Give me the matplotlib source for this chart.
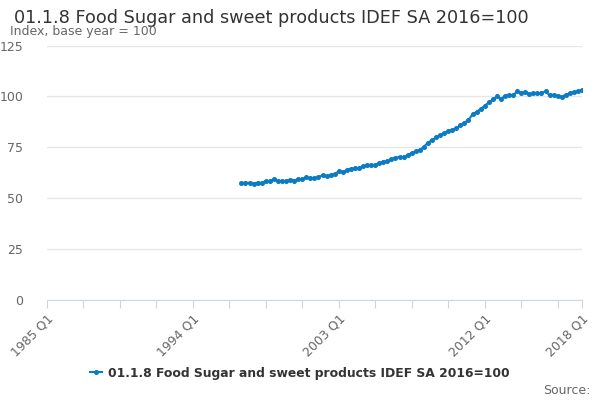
import numpy as np
from matplotlib import pyplot as plt

# quarters on the category axis, 1985 Q1 .. 2018 Q1
years = list(range(1985, 2019))
quarters = [str(y) + " Q" + str(q) for y in years for q in range(1, 5)]
quarters = quarters[:quarters.index("2018 Q1") + 1]

first_quarter = "1997 Q1"
index_values = [
    57.3, 57.5, 57.5, 57.1, 57.6, 57.4, 58.4, 58.3, 59.3, 58.5,
    58.3, 58.3, 59.1, 58.6, 59.2, 59.2, 60.2, 59.6, 59.9, 60.2,
    61.2, 60.6, 61.4, 61.7, 63.1, 62.8, 63.8, 64.4, 64.6, 64.7,
    65.6, 66.1, 66.2, 66.2, 67.2, 67.9, 68.2, 69.0, 69.8, 70.2,
    70.0,
    71.2, 72.2, 73.0, 73.7, 75.2, 77.3, 78.5, 79.8, 81.0, 82.0,
    82.8, 83.6, 84.3, 85.8, 87.1, 88.4, 91.2, 92.4, 93.8, 95.4,
    97.0, 98.5,
    100.0, 98.8, 100.2, 100.8, 100.5, 102.5, 101.8, 102.2, 101.0, 101.7,
    101.5, 101.7, 102.5, 100.5, 100.8, 100.3, 99.8, 100.8, 101.5, 102.2,
    102.6, 103.0,
]

label_quarters = ["1985 Q1", "1994 Q1", "2003 Q1", "2012 Q1", "2018 Q1"]
y_ticks = [0, 25, 50, 75, 100, 125]

title = "01.1.8 Food Sugar and sweet products IDEF SA 2016=100"

start = quarters.index(first_quarter)
x = np.arange(start, start + len(index_values))

fig = plt.figure(figsize=(6, 4), dpi=100)
ax = fig.add_axes([0.078, 0.251, 0.892, 0.635])

line, = ax.plot(x, index_values, color="#0b7bc4", linewidth=1.5,
                marker="o", markersize=2.6, label=title)

ax.set_xlim(0, len(quarters) - 1)
ax.set_ylim(0, 125)
ax.set_yticks(y_ticks)
ax.set_yticklabels([str(v) for v in y_ticks])
ax.grid(axis="y", color="#e6e6e6", linewidth=1)
ax.set_axisbelow(True)

tick_pos = list(range(0, len(quarters), 9)) + [len(quarters) - 1]
ax.set_xticks(tick_pos)
ax.set_xticklabels([quarters[p] if quarters[p] in label_quarters else "" for p in tick_pos],
                   rotation=45, ha="right", rotation_mode="anchor")

for s in ["top", "right", "left"]:
    ax.spines[s].set_visible(False)
ax.spines["bottom"].set_color("#ccd6eb")
ax.tick_params(axis="x", colors="#ccd6eb", length=6, labelcolor="#666666", labelsize=9, pad=3)
ax.tick_params(axis="y", length=0, labelcolor="#666666", labelsize=9, pad=17)

fig.text(14 / 600, 1 - 18 / 400, title, fontsize=12.7, color="#333333", va="center", ha="left")
fig.text(10 / 600, 1 - 32 / 400, "Index, base year = 100", fontsize=9, color="#666666", va="center", ha="left")
fig.text(590 / 600, 1 - 390 / 400, "Source:", fontsize=9, color="#666666", va="center", ha="right")

fig.legend(handles=[line], loc="center", bbox_to_anchor=(0.5, 1 - 373 / 400), frameon=False,
           prop={"size": 8.9, "weight": "bold"}, labelcolor="#333333", handlelength=1.0,
           handletextpad=0.5)

plt.savefig("out.png", dpi=100)
